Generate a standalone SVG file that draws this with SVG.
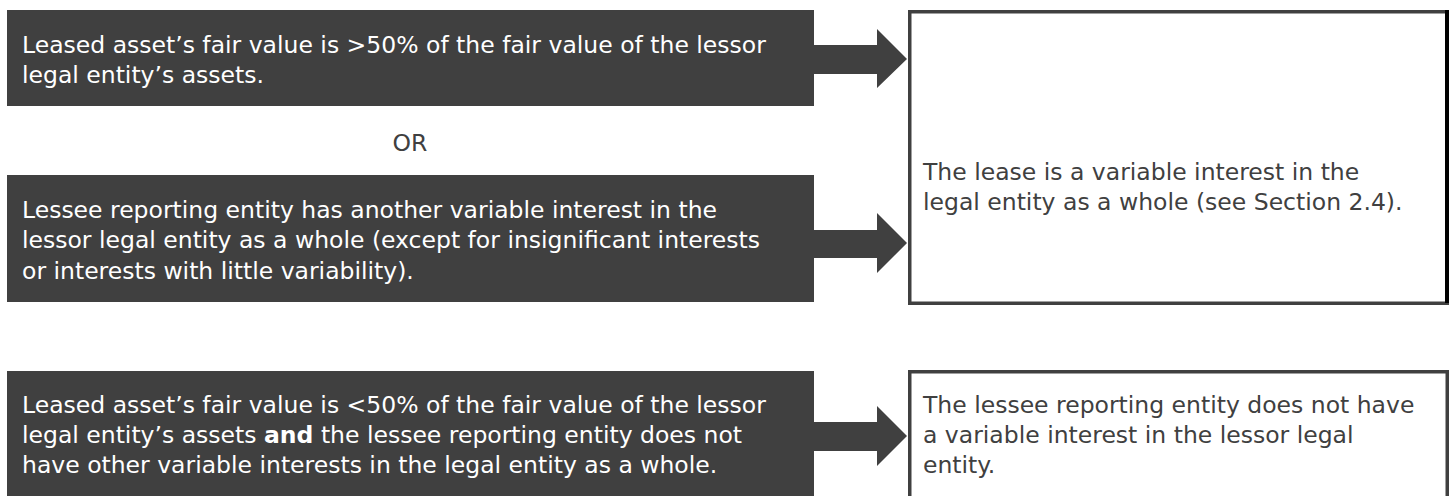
<svg xmlns="http://www.w3.org/2000/svg" width="1453" height="496" viewBox="0 0 1453 496">
<style>
.dark{fill:#404040}
.out{fill:#ffffff;stroke:#404040;stroke-width:3.5}
.t{font-family:"DejaVu Sans","Open Sans","Liberation Sans",sans-serif;font-size:23.5px}
.w{fill:#ffffff}
.g{fill:#404040}
</style>
<rect width="1453" height="496" fill="#ffffff"/>
<g id="cond1">
<rect class="dark" x="7" y="10" width="807" height="96"/>
<text class="t w" x="22" y="53">Leased asset’s fair value is &gt;50% of the fair value of the lessor</text>
<text class="t w" x="22" y="83">legal entity’s assets.</text>
</g>
<g id="or">
<text class="t g" x="410" y="151" text-anchor="middle">OR</text>
</g>
<g id="cond2">
<rect class="dark" x="7" y="175" width="807" height="127"/>
<text class="t w" x="22" y="218">Lessee reporting entity has another variable interest in the</text>
<text class="t w" x="22" y="248">lessor legal entity as a whole (except for insignificant interests</text>
<text class="t w" x="22" y="279">or interests with little variability).</text>
</g>
<g id="cond3">
<rect class="dark" x="7" y="371" width="807" height="130"/>
<text class="t w" x="22" y="413">Leased asset’s fair value is &lt;50% of the fair value of the lessor</text>
<text class="t w" x="22" y="443">legal entity’s assets <tspan font-weight="bold">and</tspan> the lessee reporting entity does not</text>
<text class="t w" x="22" y="473">have other variable interests in the legal entity as a whole.</text>
</g>
<g id="result1">
<rect class="out" x="909.75" y="11.75" width="537.5" height="291.5"/>
<rect x="1445" y="10" width="4" height="293" fill="#000000"/>
<text class="t g" x="923" y="180">The lease is a variable interest in the</text>
<text class="t g" x="923" y="210">legal entity as a whole (see Section 2.4).</text>
</g>
<g id="result2">
<rect class="out" x="909.75" y="371.75" width="537.5" height="140"/>
<text class="t g" x="923" y="413">The lessee reporting entity does not have</text>
<text class="t g" x="923" y="443">a variable interest in the lessor legal</text>
<text class="t g" x="923" y="473">entity.</text>
</g>
<g id="connectors">
<polygon class="dark" points="814,45 877,45 877,29 907,59 877,88 877,74 814,74"/>
<polygon class="dark" points="814,230 877,230 877,213 907,243 877,273 877,258 814,258"/>
<polygon class="dark" points="814,422 877,422 877,406 907,436 877,466 877,451 814,451"/>
</g>
</svg>
